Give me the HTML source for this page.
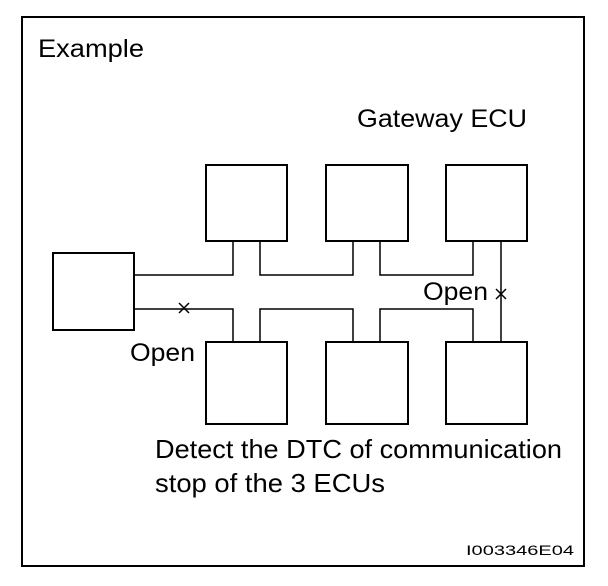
<!DOCTYPE html>
<html><head><style>
html,body{margin:0;padding:0;background:#fff;width:608px;height:586px;overflow:hidden}
svg text{font-family:"Liberation Sans",Arial,sans-serif;fill:#000}
</style></head><body>
<svg width="608" height="586" viewBox="0 0 608 586" xmlns="http://www.w3.org/2000/svg">
<rect x="22" y="17" width="562" height="549" fill="none" stroke="#000" stroke-width="2"/>
<text x="38" y="57" font-size="25" textLength="106" lengthAdjust="spacingAndGlyphs">Example</text>
<text x="357" y="127" font-size="25" textLength="170" lengthAdjust="spacingAndGlyphs">Gateway ECU</text>
<g fill="#fff" stroke="#000" stroke-width="2">
<rect x="206" y="165" width="81" height="76"/>
<rect x="326" y="165" width="82" height="76"/>
<rect x="446" y="165" width="81" height="76"/>
<rect x="53" y="253" width="81" height="77"/>
<rect x="206" y="342" width="81" height="82"/>
<rect x="326" y="342" width="82" height="82"/>
<rect x="446" y="342" width="81" height="82"/>
</g>
<g fill="none" stroke="#000" stroke-width="1.5">
<polyline points="134,275 233,275 233,241"/>
<polyline points="260,241 260,275 353,275 353,241"/>
<polyline points="380,241 380,275 473,275 473,241"/>
<line x1="501" y1="241" x2="501" y2="342"/>
<polyline points="134,309 233,309 233,342"/>
<polyline points="260,342 260,309 353,309 353,342"/>
<polyline points="380,342 380,309 473,309 473,342"/>
<path d="M179,303 L189,313 M189,303 L179,313"/>
<path d="M496,289 L506,299 M506,289 L496,299"/>
</g>
<text x="130" y="361" font-size="25" textLength="65" lengthAdjust="spacingAndGlyphs">Open</text>
<text x="423" y="300" font-size="25" textLength="65" lengthAdjust="spacingAndGlyphs">Open</text>
<text x="155" y="458" font-size="26" textLength="407" lengthAdjust="spacingAndGlyphs">Detect the DTC of communication</text>
<text x="155" y="492" font-size="26" textLength="230" lengthAdjust="spacingAndGlyphs">stop of the 3 ECUs</text>
<text x="466" y="555" font-size="14" textLength="108" lengthAdjust="spacingAndGlyphs">I003346E04</text>
</svg>
</body></html>
